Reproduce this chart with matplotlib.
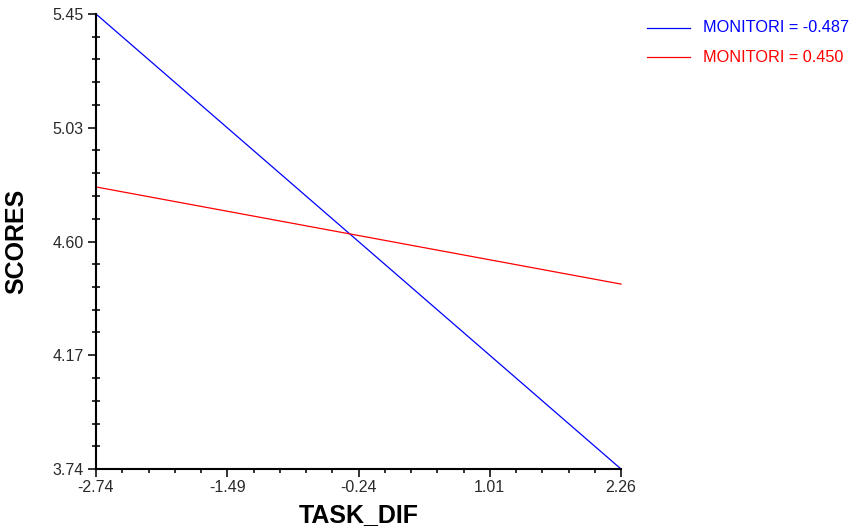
import matplotlib
matplotlib.use("Agg")
import matplotlib.pyplot as plt
import numpy as np
from matplotlib.ticker import FixedLocator

plt.rcParams['font.family'] = ['Liberation Sans', 'DejaVu Sans']

x_ends = [-2.74, 2.26]
blue_vals = [5.45, 3.74]
red_vals = [4.80, 4.435]
series_labels = ["MONITORI = -0.487", "MONITORI = 0.450"]
series_colors = ["#0000ff", "#ff0000"]
x_ticks = [-2.74, -1.49, -0.24, 1.01, 2.26]
x_ticklabels = ["-2.74", "-1.49", "-0.24", "1.01", "2.26"]
y_ticks = [3.74, 4.1675, 4.595, 5.0225, 5.45]
y_ticklabels = ["3.74", "4.17", "4.60", "5.03", "5.45"]

fig = plt.figure(figsize=(8.55, 5.28), dpi=100)
ax = fig.add_axes([96/855, 1-469/528, (621-96)/855, (469-14)/528])

ax.plot(x_ends, blue_vals, color=series_colors[0], lw=0.9, clip_on=False)
ax.plot(x_ends, red_vals, color=series_colors[1], lw=0.9, clip_on=False)

ax.set_xlim(x_ticks[0], x_ticks[-1])
ax.set_ylim(y_ticks[0], y_ticks[-1])
for s in ['top', 'right']:
    ax.spines[s].set_visible(False)
for s in ['left', 'bottom']:
    ax.spines[s].set_linewidth(1.5)

ax.xaxis.set_major_locator(FixedLocator(x_ticks))
ax.set_xticklabels(x_ticklabels)
ax.yaxis.set_major_locator(FixedLocator(y_ticks))
ax.set_yticklabels(y_ticklabels)
ax.xaxis.set_minor_locator(FixedLocator(np.arange(x_ticks[0], x_ticks[-1] + 1e-6, 0.25)))
ystep = (y_ticks[1] - y_ticks[0]) / 5
ax.yaxis.set_minor_locator(FixedLocator(np.arange(y_ticks[0], y_ticks[-1] + 1e-6, ystep)))

ax.tick_params(axis='x', which='major', direction='out', length=6, width=1.3, labelsize=11.5, pad=2, colors='#222222', labelcolor='#2a2a2a')
ax.tick_params(axis='x', which='minor', direction='out', length=3, width=1.3, colors='#222222')
ax.tick_params(axis='y', which='major', direction='out', length=6, width=1.3, labelsize=11.5, pad=3, colors='#222222', labelcolor='#2a2a2a')
ax.tick_params(axis='y', which='minor', direction='inout', length=6, width=1.3, colors='#222222')

ax.set_xlabel("TASK_DIF", fontsize=18, fontweight='bold', labelpad=6)
ax.set_ylabel("SCORES", fontsize=18, fontweight='bold', labelpad=17)

for i, (lab, col) in enumerate(zip(series_labels, series_colors)):
    yy = 1 - (27.5 + 29.5*i)/528
    fig.add_artist(plt.Line2D([647/855, 690/855], [yy, yy], color=col, lw=0.9))
    fig.text(703/855, yy, lab, color=col, fontsize=11.7, va='center', ha='left')

fig.savefig("out.png", dpi=100)
